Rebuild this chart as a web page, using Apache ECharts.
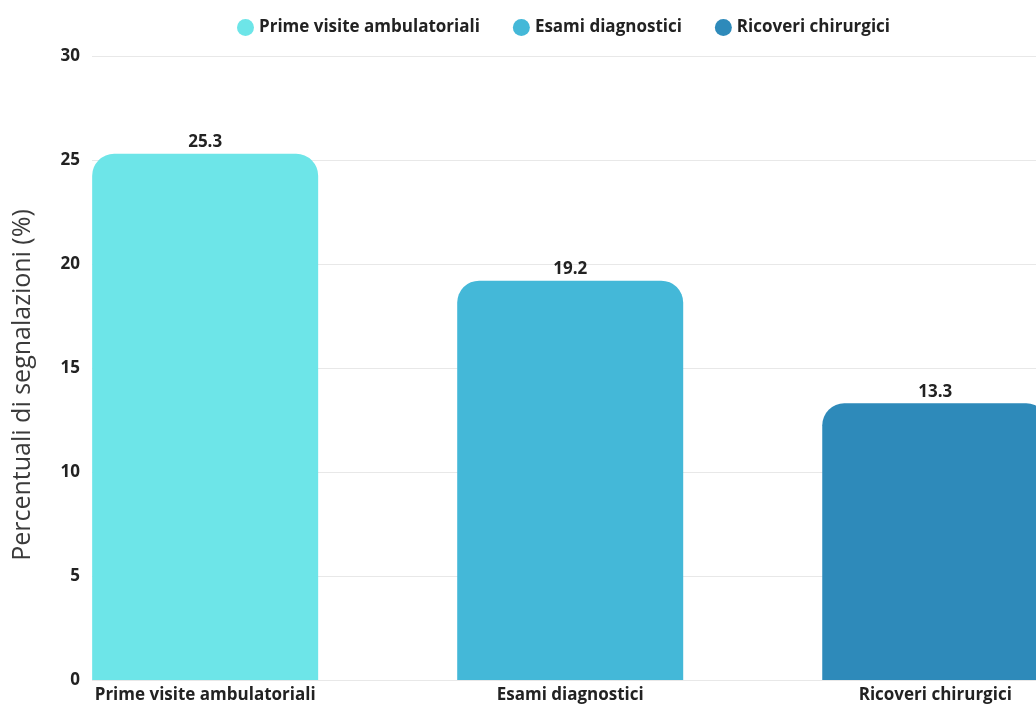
<!DOCTYPE html>
<html><head><meta charset="utf-8">
<script src="https://cdn.jsdelivr.net/npm/echarts@6/dist/echarts.min.js"></script>
<style>html,body{margin:0;padding:0;background:#fff}#c{width:1036px;height:704px}</style>
</head><body><div id="c"></div>
<script>
const categories = ['Prime visite ambulatoriali', 'Esami diagnostici', 'Ricoveri chirurgici'];
const values = [25.3, 19.2, 13.3];
const colors = ['#6de5e8', '#44b8d8', '#2e8aba'];
const yTicks = [0, 5, 10, 15, 20, 25, 30];

const chart = echarts.init(document.getElementById('c'));
const font = '"Open Sans", "Noto Sans", sans-serif';
const series = categories.map((name, i) => ({
  name: name,
  type: 'bar',
  data: [[i, values[i]]],
  barWidth: 226,
  barGap: '-100%',
  itemStyle: { color: colors[i], borderRadius: [22, 22, 0, 0] },
  label: { show: true, position: 'top', distance: 3, color: '#222', fontFamily: font, fontWeight: 'bold', fontSize: 17 }
}));
chart.setOption({
  animation: false,
  textStyle: { fontFamily: font },
  legend: {
    top: 14, left: 232, itemGap: 33, icon: 'circle', itemWidth: 17, itemHeight: 17,
    textStyle: { fontFamily: font, fontWeight: 'bold', fontSize: 17, color: '#222' },
    data: categories
  },
  grid: { left: 92, right: 0, top: 56, bottom: 24, containLabel: false },
  xAxis: {
    type: 'value', min: -0.31, max: 2.276,
    splitLine: { show: false }, axisLine: { show: false }, axisTick: { show: false },
    axisLabel: {
      customValues: [0, 1, 2], margin: 7,
      formatter: v => categories[Math.round(v)] || '',
      color: '#222', fontFamily: font, fontWeight: 'bold', fontSize: 17
    }
  },
  yAxis: {
    type: 'value', min: 0, max: 30, interval: 5,
    name: 'Percentuali di segnalazioni (%)', nameLocation: 'middle', nameGap: 57,
    nameTextStyle: { fontFamily: font, fontSize: 25, fontWeight: 'normal', color: '#3a3a3a', padding: [0, 0, 0, -34] },
    axisLine: { show: false }, axisTick: { show: false },
    axisLabel: { color: '#222', fontFamily: font, fontWeight: 'bold', fontSize: 17, margin: 12 },
    splitLine: { lineStyle: { color: '#e8e8e8', width: 1 } }
  },
  series: series
});
</script></body></html>
